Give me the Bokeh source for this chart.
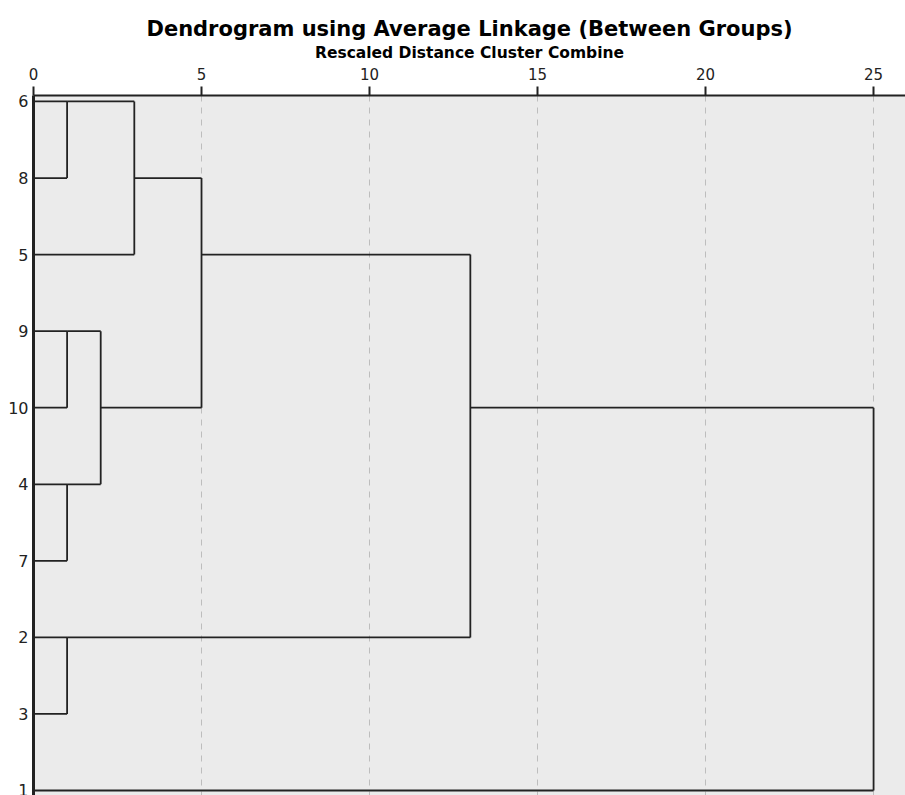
from bokeh.plotting import figure
from bokeh.models import Range1d, FixedTicker
from bokeh.embed import file_html
from bokeh.resources import INLINE

# ---- data ----
leaf_labels = ["6", "8", "5", "9", "10", "4", "7", "2", "3", "1"]   # top to bottom
# merges: (child A, child B, rescaled distance); children are leaf labels or "c<k>" (k-th merge)
merge_a = ["6", "9", "4", "2", "c1", "c0", "c5", "c6", "c7"]
merge_b = ["8", "10", "7", "3", "c2", "5", "c4", "c3", "1"]
merge_dist = [1, 1, 1, 1, 2, 3, 5, 13, 25]
x_ticks = [0, 5, 10, 15, 20, 25]

# ---- build segments (SPSS style: cluster row = floor of mid-row) ----
row = {lab: i for i, lab in enumerate(leaf_labels)}
height = {lab: 0 for lab in leaf_labels}
x0s, y0s, x1s, y1s = [], [], [], []
for k, (a, b, d) in enumerate(zip(merge_a, merge_b, merge_dist)):
    ra, rb = row[a], row[b]
    ha, hb = height[a], height[b]
    x0s += [ha, hb, d]
    y0s += [ra, rb, ra]
    x1s += [d, d, d]
    y1s += [ra, rb, rb]
    key = "c%d" % k
    row[key] = (ra + rb) // 2
    height[key] = d

FONT = "DejaVu Sans"
n = len(leaf_labels)

p = figure(width=905, height=795, output_backend="svg", toolbar_location=None,
           x_range=Range1d(0, 25.95), y_range=Range1d(n - 1 + 0.065, -0.078),
           x_axis_location="above", min_border_left=33, min_border_right=0,
           min_border_bottom=0, min_border_top=95)

p.title.text = "Dendrogram using Average Linkage (Between Groups)"
p.title.align = "center"
p.title.text_font = FONT
p.title.text_font_size = "21px"
p.title.text_font_style = "bold"
p.title.text_color = "#000000"
p.title.standoff = 0

p.background_fill_color = "#ebebeb"
p.border_fill_color = "#ffffff"
p.outline_line_color = None

xa = p.xaxis[0]
xa.ticker = FixedTicker(ticks=x_ticks)
xa.axis_label = "Rescaled Distance Cluster Combine"
xa.axis_label_text_font = FONT
xa.axis_label_text_font_style = "bold"
xa.axis_label_text_font_size = "15.5px"
xa.axis_label_text_color = "#000000"
xa.axis_label_standoff = 3
xa.major_label_text_font = FONT
xa.major_label_text_font_size = "15px"
xa.major_label_text_color = "#222222"
xa.major_label_standoff = 7
xa.major_tick_out = 9
xa.major_tick_in = 0
xa.minor_tick_out = 0
xa.minor_tick_in = 0
xa.major_tick_line_width = 2
xa.major_tick_line_color = "#222222"
xa.axis_line_width = 2
xa.axis_line_color = "#222222"

ya = p.yaxis[0]
ya.ticker = FixedTicker(ticks=list(range(n)))
ya.major_label_overrides = {i: lab for i, lab in enumerate(leaf_labels)}
ya.major_label_text_font = FONT
ya.major_label_text_font_size = "16px"
ya.major_label_text_color = "#222222"
ya.major_label_standoff = 5
ya.major_tick_out = 0
ya.major_tick_in = 0
ya.minor_tick_out = 0
ya.minor_tick_in = 0
ya.axis_line_width = 3
ya.axis_line_color = "#222222"

p.ygrid.visible = False
p.xgrid.ticker = FixedTicker(ticks=x_ticks[1:])
p.xgrid.grid_line_color = "#bdbdbd"
p.xgrid.grid_line_dash = "6 6"
p.xgrid.grid_line_width = 1

p.segment(x0=x0s, y0=y0s, x1=x1s, y1=y1s, line_color="#222222", line_width=1.8)

open("out.html", "w").write(file_html(p, INLINE))
